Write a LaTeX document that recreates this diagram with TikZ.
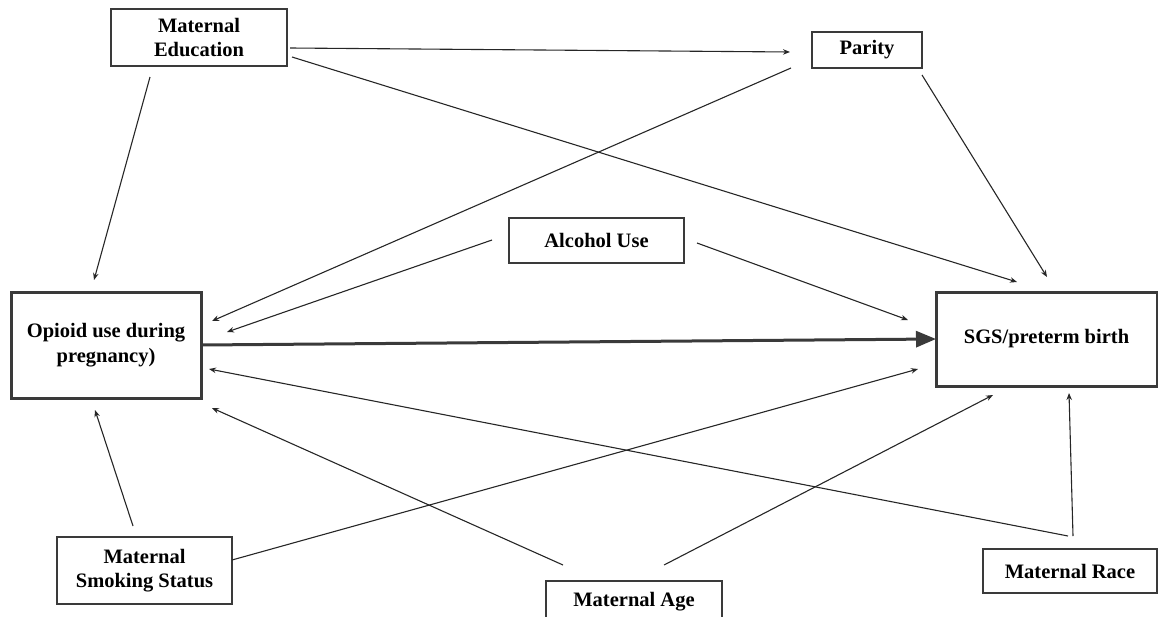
\documentclass[tikz,border=0pt]{standalone}
\usepackage{fontspec}
\setmainfont{Liberation Serif}
\usetikzlibrary{arrows.meta}
\definecolor{linec}{HTML}{262626}
\definecolor{boxc}{HTML}{3A3A3A}
\tikzset{
  var/.style={draw=boxc, line width=1.1pt, rectangle, align=center, inner sep=0pt,
    font=\fontsize{20.5}{24.5}\selectfont\bfseries, text=black},
  mainvar/.style={var, line width=3pt},
  conn/.style={draw=linec, line width=1.1pt, -{Stealth[length=7pt,width=5.5pt]}},
  mainconn/.style={draw=boxc, line width=3pt, -{Triangle[length=20pt,width=16pt]}}
}
\begin{document}
\begin{tikzpicture}[x=1pt,y=-1pt]
\useasboundingbox (0,0) rectangle (1158,616);
\begin{scope}
\clip (0,0) rectangle (1158,616);
\node[var, minimum width=176pt, minimum height=57pt] (edu) at (199,37.5) {Maternal\\Education};
\node[var, minimum width=110pt, minimum height=36pt] (parity) at (867,50) {Parity};
\node[mainvar, minimum width=190pt, minimum height=106pt] (opioid) at (106,345) {Opioid use during\\pregnancy)};
\node[mainvar, minimum width=221pt, minimum height=94pt] (sgs) at (1046.5,339) {SGS/preterm birth};
\node[var, minimum width=175pt, minimum height=45pt] (alcohol) at (596.5,240.5) {Alcohol Use};
\node[var, minimum width=175pt, minimum height=67pt] (smoking) at (144.5,570.5) {Maternal\\Smoking Status};
\node[var, minimum width=176pt, minimum height=42pt] (age) at (634,602) {Maternal Age};
\node[var, minimum width=174pt, minimum height=44pt] (race) at (1070,571) {Maternal Race};
\end{scope}
% connector end points
\coordinate (edu-o) at (150,77);   \coordinate (o-edu) at (94,280);
\coordinate (edu-p) at (290,48);   \coordinate (p-edu) at (790,52);
\coordinate (edu-s) at (292,57);   \coordinate (s-edu) at (1017,282);
\coordinate (par-o) at (791,68);   \coordinate (o-par) at (212,321);
\coordinate (par-s) at (922,75);   \coordinate (s-par) at (1047,277);
\coordinate (alc-o) at (492,240);  \coordinate (o-alc) at (227,332);
\coordinate (alc-s) at (697,243);  \coordinate (s-alc) at (908,320);
\coordinate (op-s) at (201,345);   \coordinate (s-op) at (936,339);
\coordinate (smk-o) at (133,526);  \coordinate (o-smk) at (95,410);
\coordinate (smk-s) at (232,560);  \coordinate (s-smk) at (918,369);
\coordinate (age-o) at (563,565);  \coordinate (o-age) at (212,408);
\coordinate (age-s) at (664,565);  \coordinate (s-age) at (993,395);
\coordinate (race-o) at (1068,536); \coordinate (o-race) at (209,369);
\coordinate (race-s) at (1073,536); \coordinate (s-race) at (1069,393);
\draw[conn] (edu-o) -- (o-edu);
\draw[conn] (edu-p) -- (p-edu);
\draw[conn] (edu-s) -- (s-edu);
\draw[conn] (par-o) -- (o-par);
\draw[conn] (par-s) -- (s-par);
\draw[conn] (alc-o) -- (o-alc);
\draw[conn] (alc-s) -- (s-alc);
\draw[mainconn] (op-s) -- (s-op);
\draw[conn] (smk-o) -- (o-smk);
\draw[conn] (smk-s) -- (s-smk);
\draw[conn] (age-o) -- (o-age);
\draw[conn] (age-s) -- (s-age);
\draw[conn] (race-o) -- (o-race);
\draw[conn] (race-s) -- (s-race);
\end{tikzpicture}
\end{document}
